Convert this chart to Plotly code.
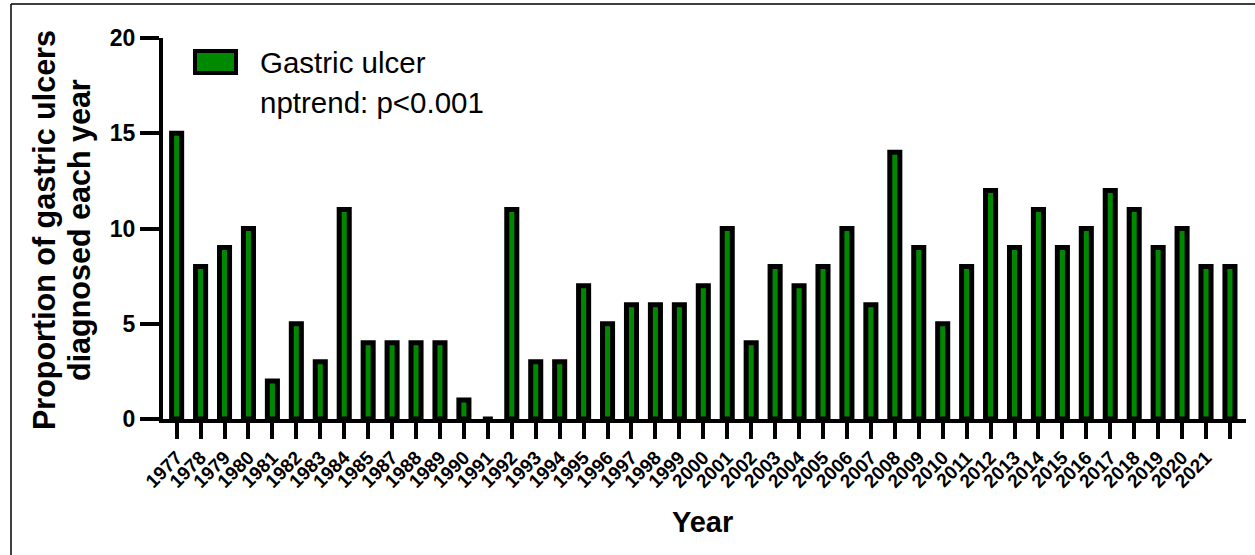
import plotly.graph_objects as go

years = ["1977", "1978", "1979", "1980", "1981", "1982", "1983", "1984", "1985",
         "1987", "1988", "1989", "1990", "1991", "1992", "1993", "1994", "1995",
         "1996", "1997", "1998", "1999", "2000", "2001", "2002", "2003", "2004",
         "2005", "2006", "2007", "2008", "2009", "2010", "2011", "2012", "2013",
         "2014", "2015", "2016", "2017", "2018", "2019", "2020", "2021", " "]
values = [15, 8, 9, 10, 2, 5, 3, 11, 4,
          4, 4, 4, 1, 0, 11, 3, 3, 7,
          5, 6, 6, 6, 7, 10, 4, 8, 7,
          8, 10, 6, 14, 9, 5, 8, 12, 9,
          11, 9, 10, 12, 11, 9, 10, 8, 8]
y_ticks = [0, 5, 10, 15, 20]

GREEN = "#008800"
FONT = "Arial, Liberation Sans, sans-serif"

fig = go.Figure()
fig.add_trace(go.Bar(
    x=years, y=values,
    marker=dict(color=GREEN, line=dict(color="black", width=5)),
    showlegend=False,
))

W, H = 1255, 555
L, R, T, B = 163, 9, 38, 136
pw, ph = W - L - R, H - T - B

def px(x):
    return (x - L) / pw

def py(y):
    return (H - B - y) / ph

fig.update_layout(
    width=W, height=H,
    margin=dict(l=L, r=R, t=T, b=B),
    plot_bgcolor="white", paper_bgcolor="white",
    bargap=0.58,
    font=dict(family=FONT, color="black"),
    xaxis=dict(
        type="category",
        range=[-0.57, 44.67],
        showline=True, linecolor="black", linewidth=4,
        ticks="outside", ticklen=16, tickwidth=4, tickcolor="black",
        tickangle=-45,
        tickfont=dict(family=FONT, size=19, color="black", weight="bold"),
        showgrid=False, zeroline=False,
    ),
    yaxis=dict(
        range=[0, 20],
        tickvals=y_ticks,
        showline=True, linecolor="black", linewidth=4,
        ticks="outside", ticklen=19, tickwidth=4, tickcolor="black",
        tickfont=dict(family=FONT, size=23, color="black", weight="bold"),
        showgrid=False, zeroline=False,
    ),
)

# outer frame (left and top edges)
fig.add_shape(type="line", xref="paper", yref="paper",
              x0=px(11), x1=px(11), y0=py(4), y1=py(560),
              line=dict(color="black", width=1.5))
fig.add_shape(type="line", xref="paper", yref="paper",
              x0=px(11), x1=px(1260), y0=py(4), y1=py(4),
              line=dict(color="black", width=1.5))

# legend box
fig.add_shape(type="rect", xref="paper", yref="paper",
              x0=px(195), x1=px(236), y0=py(51), y1=py(73),
              line=dict(color="black", width=4), fillcolor=GREEN)

fig.add_annotation(xref="paper", yref="paper", x=px(258), y=py(62),
                   text="Gastric ulcer", showarrow=False, xanchor="left", yanchor="middle",
                   font=dict(family=FONT, size=29.5, color="black"))
fig.add_annotation(xref="paper", yref="paper", x=px(258), y=py(103),
                   text="nptrend: p<0.001", showarrow=False, xanchor="left", yanchor="middle",
                   font=dict(family=FONT, size=29.5, color="black"))

# axis titles
fig.add_annotation(xref="paper", yref="paper", x=px(44), y=py(230),
                   text="Proportion of gastric ulcers",
                   textangle=-90, showarrow=False, xanchor="center", yanchor="middle",
                   font=dict(family=FONT, size=30.5, color="black", weight="bold"))
fig.add_annotation(xref="paper", yref="paper", x=px(79), y=py(230),
                   text="diagnosed each year",
                   textangle=-90, showarrow=False, xanchor="center", yanchor="middle",
                   font=dict(family=FONT, size=30.5, color="black", weight="bold"))
fig.add_annotation(xref="paper", yref="paper", x=px(702), y=py(522),
                   text="Year", showarrow=False, xanchor="center", yanchor="middle",
                   font=dict(family=FONT, size=29, color="black", weight="bold"))

fig.write_html("out.html", config={"displayModeBar": False},
               post_script="document.body.style.margin='0px';")
